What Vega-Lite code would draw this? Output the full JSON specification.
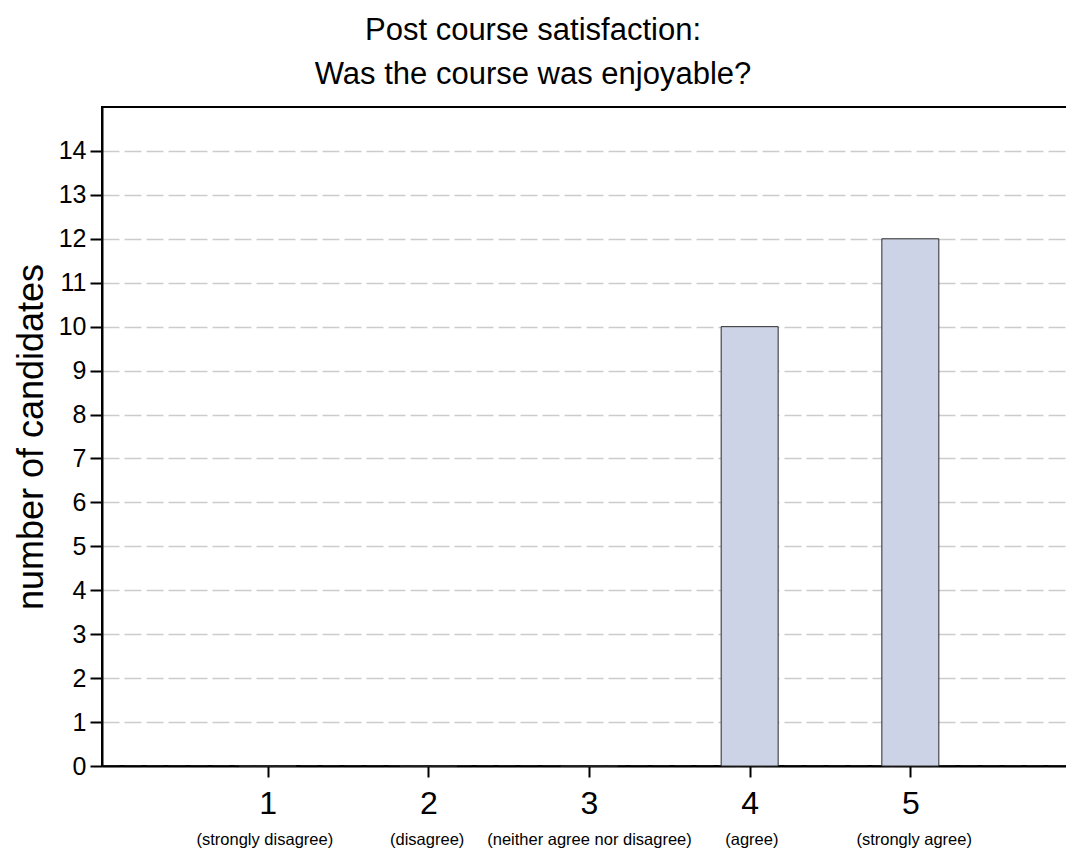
{
  "$schema": "https://vega.github.io/schema/vega-lite/v6.json",
  "width": 974,
  "height": 659,
  "autosize": {"type": "none"},
  "padding": {"left": 102, "top": 107, "right": 0, "bottom": 89},
  "background": "white",
  "title": {
    "text": ["Post course satisfaction:", "Was the course was enjoyable?"],
    "fontSize": 31,
    "font": "Liberation Sans",
    "fontWeight": "normal",
    "color": "#000000",
    "lineHeight": 44,
    "offset": 16,
    "dx": -56,
    "anchor": "middle"
  },
  "config": {
    "view": {"stroke": "#000000", "strokeWidth": 2},
    "font": "Liberation Sans"
  },
  "data": {
    "values": [
      {"score": 1, "count": 0, "label": "(strongly disagree)"},
      {"score": 2, "count": 0, "label": "(disagree)"},
      {"score": 3, "count": 0, "label": "(neither agree nor disagree)"},
      {"score": 4, "count": 10, "label": "(agree)"},
      {"score": 5, "count": 12, "label": "(strongly agree)"}
    ]
  },
  "layer": [
    {
      "mark": {"type": "bar", "width": 57, "fill": "#cdd3e6", "stroke": "#2a2a2a", "strokeWidth": 1},
      "encoding": {
        "x": {
          "field": "score",
          "type": "quantitative",
          "scale": {"domain": [0, 6], "nice": false, "zero": false},
          "axis": {
            "values": [1, 2, 3, 4, 5],
            "format": "d",
            "title": null,
            "grid": false,
            "labelFont": "Liberation Sans",
            "labelFontSize": 32,
            "labelColor": "#000000",
            "labelPadding": 11,
            "tickSize": 11,
            "tickWidth": 2,
            "tickColor": "#000000",
            "domainColor": "#000000",
            "domainWidth": 2
          }
        },
        "y": {
          "field": "count",
          "type": "quantitative",
          "scale": {"domain": [0, 15], "nice": false},
          "axis": {
            "values": [0, 1, 2, 3, 4, 5, 6, 7, 8, 9, 10, 11, 12, 13, 14],
            "title": "number of candidates",
            "titleFont": "Liberation Sans",
            "titleFontSize": 36,
            "titleFontWeight": "normal",
            "titleColor": "#000000",
            "titlePadding": 8,
            "labelFont": "Liberation Sans",
            "labelFontSize": 25,
            "labelColor": "#000000",
            "labelPadding": 4,
            "tickSize": 12,
            "tickWidth": 2,
            "tickColor": "#000000",
            "domainColor": "#000000",
            "domainWidth": 2,
            "grid": true,
            "gridDash": [17, 5],
            "gridColor": "#cccccc",
            "gridWidth": 1.5
          }
        }
      }
    },
    {
      "mark": {"type": "text", "opacity": 0},
      "encoding": {
        "x": {
          "field": "score",
          "type": "quantitative",
          "scale": {"domain": [0, 6], "nice": false, "zero": false},
          "axis": {
            "orient": "bottom",
            "values": [1, 2, 3, 4, 5],
            "labelExpr": "['','(strongly disagree)','(disagree)','(neither agree nor disagree)','(agree)','(strongly agree)'][datum.value]",
            "title": null,
            "grid": false,
            "domain": false,
            "ticks": false,
            "labelFont": "Liberation Sans",
            "labelFontSize": 16.5,
            "labelLimit": 400,
            "labelOverlap": false,
            "labelColor": "#000000",
            "labelPadding": 65
          }
        },
        "text": {"field": "label"}
      }
    }
  ],
  "resolve": {"scale": {"x": "independent"}, "axis": {"x": "independent"}}
}
